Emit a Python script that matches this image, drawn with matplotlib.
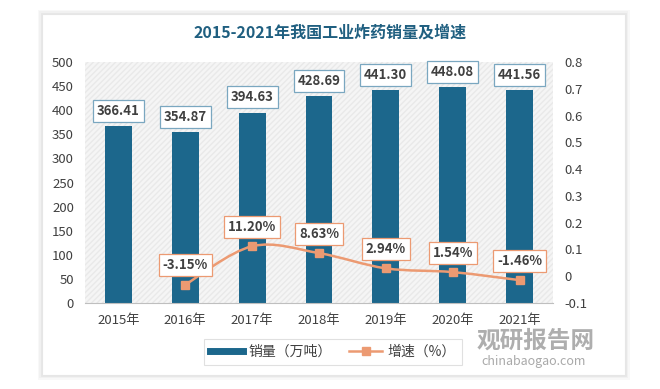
import matplotlib
matplotlib.use('Agg')
import matplotlib.pyplot as plt
import numpy as np
from matplotlib.path import Path
from matplotlib.patches import PathPatch, Rectangle
from matplotlib.lines import Line2D

plt.rcParams['font.family'] = ['Noto Sans CJK SC', 'DejaVu Sans']

# data
years = ['2015年', '2016年', '2017年', '2018年', '2019年', '2020年', '2021年']
sales = [366.41, 354.87, 394.63, 428.69, 441.30, 448.08, 441.56]
growth_years = ['2016年', '2017年', '2018年', '2019年', '2020年', '2021年']
growth_pct = [-3.15, 11.20, 8.63, 2.94, 1.54, -1.46]
left_ticks = [0, 50, 100, 150, 200, 250, 300, 350, 400, 450, 500]
right_ticks = [-0.1, 0, 0.1, 0.2, 0.3, 0.4, 0.5, 0.6, 0.7, 0.8]
right_labels = ['-0.1', '0', '0.1', '0.2', '0.3', '0.4', '0.5', '0.6', '0.7', '0.8']

bar_color = '#1c678c'
line_color = '#ec9a72'
text_color = '#404040'

W, H = 660, 389
fig = plt.figure(figsize=(6.6, 3.89), dpi=100)
fig.patch.set_facecolor('white')

def fx(px):
    return px / W

def fy(py):
    return 1 - py / H

# card with soft shadow
cx0, cy0, cx1, cy1 = 42, 14, 625, 375
for i, a in enumerate([0.05, 0.06, 0.08]):
    d = (3 - i) * 1.5
    fig.patches.append(Rectangle((fx(cx0 - d), fy(cy1 + d)), fx(cx1 - cx0 + 2 * d),
                                 (cy1 - cy0 + 2 * d) / H, transform=fig.transFigure,
                                 facecolor='#888888', alpha=a, edgecolor='none', zorder=-3))
fig.patches.append(Rectangle((fx(cx0), fy(cy1)), fx(cx1 - cx0), (cy1 - cy0) / H,
                             transform=fig.transFigure, facecolor='white',
                             edgecolor='#e6e6e6', lw=0.8, zorder=-2))

ax = fig.add_axes([fx(85), fy(303), fx(553 - 85), (303 - 62) / H])
ax.set_facecolor('#f5f5f5')
ax.add_patch(Rectangle((0, 0), 1, 1, transform=ax.transAxes, facecolor='none',
                       edgecolor='#e9e9e9', hatch='//////', lw=0, zorder=0))

x = np.arange(len(years))
ax.bar(x, sales, width=0.40, color=bar_color, zorder=2)
ax.set_xlim(-0.5, len(years) - 0.5)
ax.set_ylim(0, 500)
ax.set_yticks(left_ticks)
ax.set_xticks(x)
ax.set_xticklabels(years)
for s in ['top', 'left', 'right']:
    ax.spines[s].set_visible(False)
ax.spines['bottom'].set_color('#bfbfbf')
ax.tick_params(axis='y', length=0, labelsize=9.5, colors=text_color, pad=8)
ax.tick_params(axis='x', length=0, labelsize=9.5, colors=text_color, pad=8)

for xi, v in zip(x, sales):
    ax.annotate(f'{v:.2f}', (xi, v), xytext=(0, 6), textcoords='offset points',
                ha='center', va='bottom', fontsize=9.5, fontweight='bold',
                color=text_color, zorder=5,
                bbox=dict(boxstyle='square,pad=0.3', fc='white', ec='#7aa7c0', lw=0.9))

ax2 = ax.twinx()
ax2.set_ylim(-0.1, 0.8)
ax2.set_yticks(right_ticks)
ax2.set_yticklabels(right_labels)
for s in ['top', 'left', 'right', 'bottom']:
    ax2.spines[s].set_visible(False)
ax2.tick_params(axis='y', length=0, labelsize=9.5, colors=text_color, pad=8)

gx = np.array([years.index(y) for y in growth_years], dtype=float)
gy = np.array(growth_pct) / 100.0

# smoothed line (Catmull-Rom as cubic bezier)
pts = np.column_stack([gx, gy])
ext = np.vstack([pts[0], pts, pts[-1]])
verts = [tuple(pts[0])]
codes = [Path.MOVETO]
for i in range(len(pts) - 1):
    p0, p1, p2, p3 = ext[i], ext[i + 1], ext[i + 2], ext[i + 3]
    c1 = p1 + (p2 - p0) / 6
    c2 = p2 - (p3 - p1) / 6
    verts += [tuple(c1), tuple(c2), tuple(p2)]
    codes += [Path.CURVE4] * 3
ax2.add_patch(PathPatch(Path(verts, codes), fc='none', ec=line_color, lw=1.8, zorder=3))
ax2.plot(gx, gy, 's', color=line_color, markersize=6, zorder=4)

for xi, yi, p in zip(gx, gy, growth_pct):
    ax2.annotate(f'{p:.2f}%', (xi, yi), xytext=(0, 9), textcoords='offset points',
                 ha='center', va='bottom', fontsize=9.5, fontweight='bold',
                 color=text_color, zorder=6,
                 bbox=dict(boxstyle='square,pad=0.3', fc='white', ec=line_color, lw=0.9))

fig.text(0.5, fy(33), '2015-2021年我国工业炸药销量及增速', ha='center', va='center',
         fontsize=11.5, fontweight='bold', color='#1f5f80')

handles = [Line2D([], [], color=bar_color, lw=5),
           Line2D([], [], color=line_color, lw=1.8, marker='s', markersize=6)]
leg = fig.legend(handles, ['销量（万吨）', '增速（%）'], loc='center',
                 bbox_to_anchor=(fx(333), fy(352)), ncol=2, fontsize=10, frameon=True,
                 fancybox=False, edgecolor='#d9d9d9', handlelength=2.4,
                 handletextpad=0.4, columnspacing=1.2, borderpad=0.4)
leg.get_frame().set_linewidth(0.8)
for t in leg.get_texts():
    t.set_color(text_color)

# watermark
fig.text(fx(536), fy(341), '观研报告网', ha='center', va='center', fontsize=17,
         fontweight='bold', color='#9a9a9a', alpha=0.8, zorder=10)
fig.text(fx(534), fy(362), 'chinabaogao.com', ha='center', va='center', fontsize=9,
         color='#9a9a9a', alpha=0.85, zorder=10)

fig.savefig('out.png', dpi=100)
